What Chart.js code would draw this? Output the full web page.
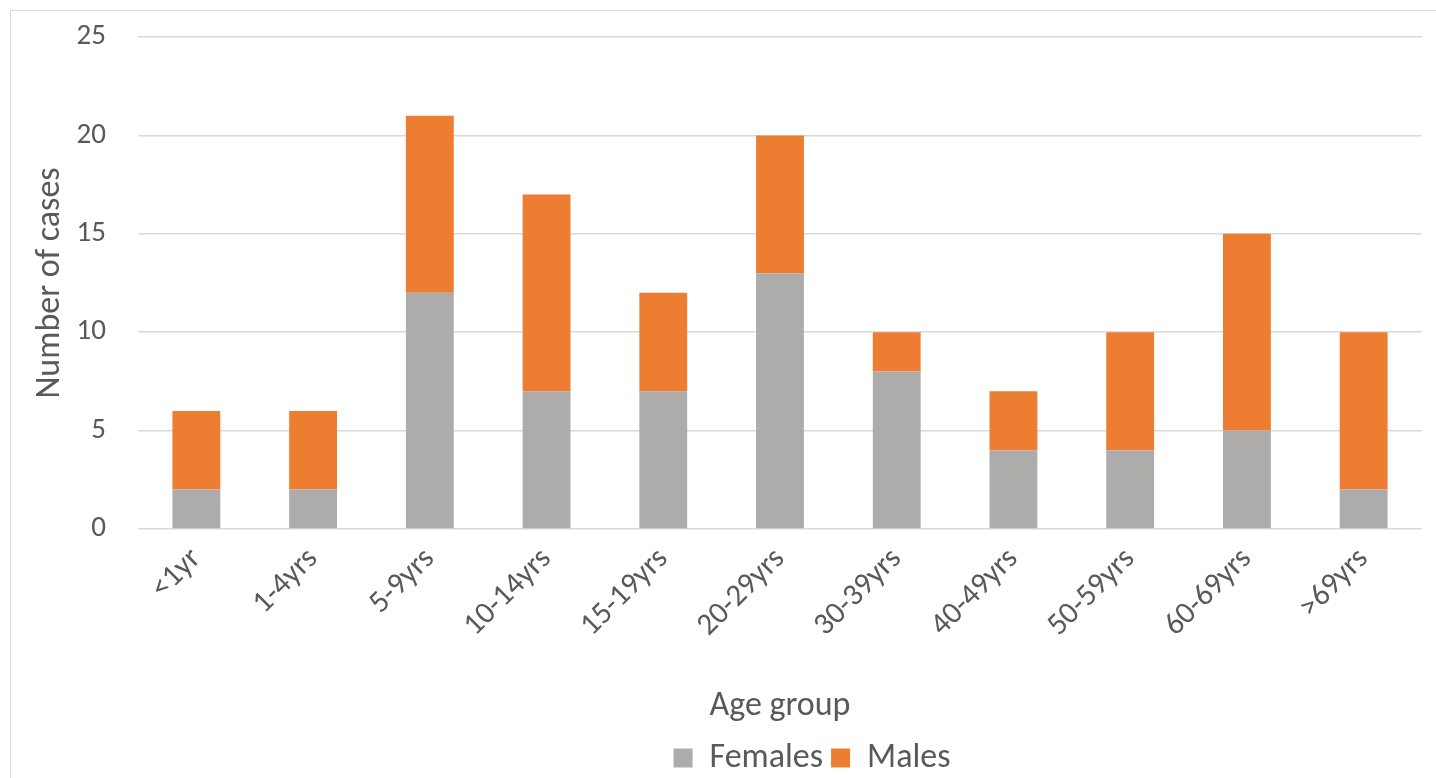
<!DOCTYPE html>
<html>
<head>
<meta charset="utf-8">
<script src="https://cdn.jsdelivr.net/npm/chart.js@4"></script>
<style>
  html, body { margin: 0; padding: 0; background: #fff; overflow: hidden; }
  #frame { position: absolute; left: 10px; top: 10px; width: 1440px; height: 780px; border: 1px solid #d9d9d9; }
  #wrap { position: absolute; left: 0; top: 0; width: 1436px; height: 778px; }
</style>
</head>
<body>
<div id="frame"></div>
<div id="wrap"><canvas id="myChart"></canvas></div>
<script>
const ageGroups = ['<1yr', '1-4yrs', '5-9yrs', '10-14yrs', '15-19yrs', '20-29yrs', '30-39yrs', '40-49yrs', '50-59yrs', '60-69yrs', '>69yrs'];
const females = [2, 2, 12, 7, 7, 13, 8, 4, 4, 5, 2];
const males = [4, 4, 9, 10, 5, 7, 2, 3, 6, 10, 8];

// nudge the legend a bit to the right, like the original
const legendShift = {
    id: 'legendShift',
    afterLayout(chart) {
        chart.legend.left += 86;
        chart.legend.right += 86;
    }
};

//Draw chart
function drawChart() {
    const ctx = document.getElementById('myChart').getContext('2d');
    const textColor = '#595959';
    const font = "Carlito, 'Open Sans', 'Liberation Sans', sans-serif";

    new Chart(ctx, {
        type: 'bar',
        data: {
            labels: ageGroups,
            datasets: [{
                label: 'Females',
                data: females,
                backgroundColor: '#AEABAB',
                barPercentage: 0.41,
                categoryPercentage: 1
            }, {
                label: 'Males',
                data: males,
                backgroundColor: '#ED7D31',
                barPercentage: 0.41,
                categoryPercentage: 1
            }]
        },
        plugins: [legendShift],
        options: {
            responsive: true,
            maintainAspectRatio: false,
            animation: false,
            layout: { padding: { left: 30, right: 14, top: 37, bottom: -7 } },
            plugins: {
                legend: {
                    position: 'bottom',
                    labels: {
                        color: textColor,
                        font: { family: font, size: 34 },
                        boxWidth: 19,
                        boxHeight: 19,
                        padding: 8
                    }
                },
                tooltip: { enabled: false }
            },
            scales: {
                x: {
                    stacked: true,
                    grid: { display: false },
                    border: { display: false },
                    ticks: {
                        color: textColor,
                        font: { family: font, size: 31 },
                        minRotation: 45,
                        maxRotation: 45,
                        padding: 4
                    },
                    title: {
                        display: true,
                        text: 'Age group',
                        color: textColor,
                        font: { family: font, size: 34 },
                        padding: { top: 38, bottom: 6 }
                    }
                },
                y: {
                    stacked: true,
                    min: 0,
                    max: 25,
                    afterFit: (scale) => { scale.width = 108; },
                    grid: { color: '#D9D9D9', lineWidth: 1.5, drawTicks: true, tickLength: 28, tickColor: 'rgba(0,0,0,0)' },
                    border: { display: false },
                    ticks: {
                        stepSize: 5,
                        color: textColor,
                        font: { family: font, size: 29 },
                        padding: 4
                    },
                    title: {
                        display: true,
                        text: 'Number of cases',
                        color: textColor,
                        font: { family: font, size: 34 },
                        padding: { top: 0, bottom: 4 }
                    }
                }
            }
        }
    });
}

document.addEventListener("DOMContentLoaded", () => {
    drawChart();
});
</script>
</body>
</html>
